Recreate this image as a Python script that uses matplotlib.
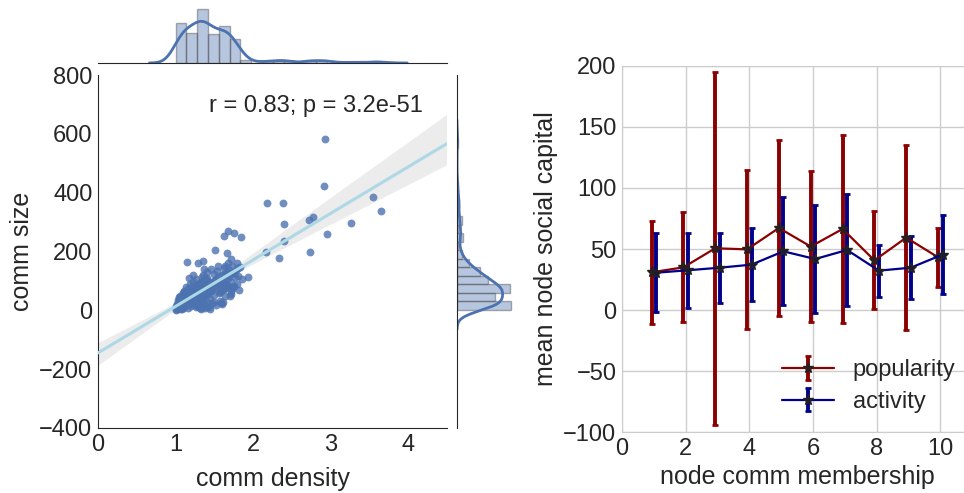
import numpy as np
import matplotlib
matplotlib.use("Agg")
import matplotlib.pyplot as plt
import seaborn as sns
from matplotlib.ticker import MultipleLocator

# community density vs community size (grouped by density band)
comm_density = [
    1.00, 1.01, 1.01, 1.02, 1.02, 1.03, 1.03, 1.04, 1.04, 1.05, 1.05, 1.06, 1.06, 1.07, 1.07, 1.08, 1.08, 1.09,
    1.09, 1.10, 1.10, 1.10, 1.11, 1.11, 1.12, 1.12, 1.12, 1.13, 1.13, 1.13, 1.03, 1.05, 1.08, 1.11, 1.13,
    1.14, 1.15, 1.15, 1.16, 1.16, 1.17, 1.17, 1.18, 1.18, 1.19, 1.20, 1.20, 1.21, 1.21, 1.22, 1.22, 1.23,
    1.23, 1.24, 1.24, 1.25, 1.25, 1.26, 1.26, 1.27, 1.27,
    1.38, 1.29, 1.31, 1.33, 1.36, 1.30, 1.40, 1.34, 1.32, 1.37, 1.29, 1.41,
    1.30, 1.33, 1.35, 1.39, 1.28, 1.36, 1.41, 1.32,
    1.29, 1.31, 1.34, 1.37, 1.40, 1.30, 1.33, 1.36, 1.38, 1.41, 1.28, 1.32, 1.35, 1.39,
    1.30, 1.33, 1.36, 1.39, 1.41, 1.34, 1.31, 1.38, 1.35, 1.40, 1.37, 1.29, 1.35,
    1.43, 1.47, 1.45, 1.52, 1.49, 1.44, 1.50, 1.42, 1.46, 1.48, 1.51, 1.54, 1.43, 1.47, 1.53,
    1.45, 1.49, 1.52, 1.55, 1.44, 1.50, 1.53, 1.46, 1.55, 1.51,
    1.58, 1.60, 1.61, 1.57, 1.64, 1.56, 1.59, 1.62, 1.65, 1.68, 1.57, 1.60, 1.63, 1.66,
    1.58, 1.61, 1.64, 1.67, 1.69, 1.59, 1.60, 1.63, 1.66, 1.69, 1.62, 1.65, 1.68, 1.64, 1.67,
    1.66, 1.63, 1.68,
    1.72, 1.70, 1.71, 1.73, 1.76, 1.79, 1.82, 1.74, 1.72, 1.77, 1.81, 1.70, 1.74, 1.78, 1.80, 1.83,
    1.75, 1.73, 1.79, 1.71, 1.75,
    1.84, 1.94, 1.86,
    2.93, 2.92, 2.18, 2.38, 3.54, 3.65, 2.40, 2.72, 2.77, 3.26, 2.95, 2.40, 2.17, 2.34, 2.73,
]
comm_size = [
    2, 6, 14, 4, 22, 10, 35, 8, 18, 28, 45, 5, 50, 16, 38, 24, 44, 12,
    58, 30, 42, 9, 20, 66, 36, 52, 15, 33, 80, 47, 26, 40, 3, 61, 18,
    20, 48, 165, 8, 72, 35, 110, 58, 25, 90, 65, 14, 45, 80, 30, 120, 55,
    98, 22, 70, 40, 62, 85, 12, 50, 105,
    9, 14, 22, 5, 28, 18, 11, 25, 7, 20, 16, 27,
    35, 42, 50, 56, 38, 46, 53, 31,
    60, 64, 68, 72, 76, 80, 84, 62, 66, 70, 74, 78, 82, 87,
    90, 95, 100, 105, 110, 115, 92, 102, 120, 130, 142, 162, 168,
    12, 24, 6, 18, 29, 40, 52, 61, 67, 73, 79, 85, 64, 76, 87,
    92, 99, 106, 113, 96, 124, 133, 140, 150, 205,
    26, 20, 29, 33, 48, 60, 66, 71, 77, 83, 63, 69, 80, 86,
    90, 97, 104, 111, 116, 94, 119, 125, 131, 137, 143, 122, 128, 152, 160,
    196, 253, 271,
    55, 48, 66, 74, 82, 88, 70, 78, 98, 112, 118, 124, 131, 138, 145, 149,
    127, 152, 162, 174, 262,
    248, 114, 105,
    581, 423, 366, 364, 385, 338, 293, 307, 318, 296, 259, 236, 199, 177, 199,
]
stat_label = "r = 0.83; p = 3.2e-51"

# social capital by number of community memberships
membership = [1, 2, 3, 4, 5, 6, 7, 8, 9, 10]
popularity_mean = [30.9, 35.0, 50.6, 49.7, 67.2, 52.0, 66.4, 40.7, 59.3, 43.2]
popularity_err = [42.0, 45.0, 144.3, 65.0, 72.3, 61.5, 76.8, 40.1, 75.4, 24.0]
activity_mean = [30.6, 32.6, 34.7, 37.2, 48.1, 41.8, 49.2, 32.3, 34.7, 45.4]
activity_err = [32.1, 30.7, 28.8, 29.8, 44.2, 44.4, 45.6, 21.2, 26.0, 32.3]

DEEP_BLUE = "#4C72B0"
TEXT = "#262626"

sns.set_style("white")
plt.rcParams.update({
    "font.family": ["Liberation Sans", "DejaVu Sans"],
    "font.size": 17,
    "axes.labelsize": 18,
    "xtick.labelsize": 17,
    "ytick.labelsize": 17,
    "legend.fontsize": 17,
    "text.color": TEXT,
    "axes.labelcolor": TEXT,
    "xtick.color": TEXT,
    "ytick.color": TEXT,
})

fig = plt.figure(figsize=(9.64, 4.93), dpi=100)
W, H = 964, 493


def px_axes(x0, y0, x1, y1):
    return fig.add_axes([x0 / W, 1 - y1 / H, (x1 - x0) / W, (y1 - y0) / H])


def kde_curve(values):
    """Gaussian KDE with the normal-reference (robust Scott) bandwidth."""
    v = np.asarray(values, dtype=float)
    q75, q25 = np.percentile(v, [75, 25])
    bw = 1.059 * min(v.std(), (q75 - q25) / 1.349) * len(v) ** -0.2
    support = np.linspace(v.min() - 3 * bw, v.max() + 3 * bw, 400)
    z = (support[:, None] - v[None, :]) / bw
    dens = np.exp(-0.5 * z ** 2).sum(axis=1) / (len(v) * bw * np.sqrt(2 * np.pi))
    return support, dens


ax_joint = px_axes(98, 75, 447, 428)
ax_top = px_axes(98, 5, 447, 63)
ax_right = px_axes(457, 75, 515, 428)

x = np.asarray(comm_density)
y = np.asarray(comm_size)

ax_joint.set_xlim(0, 4.5)
ax_joint.set_ylim(-400, 800)
ax_joint.scatter(x, y, s=32, color=DEEP_BLUE, alpha=0.8, linewidths=0, zorder=3)
sns.regplot(x=x, y=y, ax=ax_joint, scatter=False, truncate=False, color="lightblue",
            line_kws={"lw": 2.2, "zorder": 4}, seed=7)
band = ax_joint.collections[-1]
band.set_facecolor((0.5, 0.5, 0.5, 0.15))
band.set_edgecolor("none")

ax_joint.set_xlim(0, 4.5)
ax_joint.set_ylim(-400, 800)
ax_joint.xaxis.set_major_locator(MultipleLocator(1))
ax_joint.yaxis.set_major_locator(MultipleLocator(200))
ax_joint.xaxis.set_minor_locator(MultipleLocator(0.5))
ax_joint.tick_params(axis="x", which="minor", direction="in", length=3, color="0.3")
ax_joint.tick_params(which="major", length=0, pad=4)
ax_joint.set_xlabel("comm density", labelpad=8)
ax_joint.set_ylabel("comm size")
ax_joint.text(0.93, 0.913, stat_label, transform=ax_joint.transAxes, ha="right", va="center",
              fontsize=17)
for side in ("top", "right"):
    ax_joint.spines[side].set_visible(False)
for side in ("left", "bottom"):
    ax_joint.spines[side].set_color("0.15")

# marginal distributions
bar_face = (0.298, 0.447, 0.690, 0.4)
bar_edge = (0.3, 0.3, 0.3, 0.45)
counts, _, _ = ax_top.hist(x, bins=19, density=True, color=bar_face, edgecolor=bar_edge, lw=1)
kx, kd = kde_curve(x)
ax_top.plot(kx, kd, color=DEEP_BLUE, lw=2)
ax_top.set_xlim(0, 4.5)
ax_top.set_ylim(0, max(counts.max(), kd.max()) * 1.07)
ax_top.xaxis.set_minor_locator(MultipleLocator(0.5))
ax_top.tick_params(which="both", labelbottom=False, labelleft=False, left=False)
ax_top.tick_params(axis="x", which="both", direction="in", length=3, color="0.3")
for side in ("top", "right", "left"):
    ax_top.spines[side].set_visible(False)
ax_top.spines["bottom"].set_color("0.15")

counts, _, _ = ax_right.hist(y, bins=20, density=True, orientation="horizontal", color=bar_face,
                             edgecolor=bar_edge, lw=1)
ky, kdy = kde_curve(y)
ax_right.plot(kdy, ky, color=DEEP_BLUE, lw=2)
ax_right.set_ylim(-400, 800)
ax_right.set_xlim(0, max(counts.max(), kdy.max()) * 1.07)
ax_right.yaxis.set_minor_locator(MultipleLocator(100))
ax_right.tick_params(which="both", labelbottom=False, labelleft=False, bottom=False)
ax_right.tick_params(axis="y", which="both", direction="in", length=3, color="0.3")
for side in ("top", "right", "bottom"):
    ax_right.spines[side].set_visible(False)
ax_right.spines["left"].set_color("0.15")

# right panel: mean social capital vs memberships
ax = fig.add_axes([622 / W, 1 - 432.3 / H, 11 * 31.83 / W, (432.3 - 65.7) / H])
ax.set_facecolor("white")
ax.grid(True, color="#CCCCCC", lw=1)
ax.set_axisbelow(True)
for side in ax.spines.values():
    side.set_color("#CCCCCC")
m = np.asarray(membership, dtype=float)
ax.errorbar(m - 0.07, popularity_mean, yerr=popularity_err, color="darkred", lw=1.6,
            elinewidth=2.8, capsize=2.5, capthick=2, marker="*", markersize=8,
            mfc="#3a1a1a", mec="#222222", label="popularity")
ax.errorbar(m + 0.07, activity_mean, yerr=activity_err, color="darkblue", lw=1.6,
            elinewidth=2.8, capsize=2.5, capthick=2, marker="*", markersize=8,
            mfc="#1a1a3a", mec="#222222", label="activity")
ax.set_xlim(0, 11)
ax.set_ylim(-100, 200)
ax.set_xticks([0, 2, 4, 6, 8, 10])
ax.set_yticks([-100, -50, 0, 50, 100, 150, 200])
ax.tick_params(length=0, pad=4)
ax.set_xlabel("node comm membership")
ax.set_ylabel("mean node social capital")
ax.legend(loc="lower right", bbox_to_anchor=(1.013, -0.005), frameon=False,
          handlelength=2.2, labelspacing=0.42)

fig.savefig("out.png", dpi=100)
